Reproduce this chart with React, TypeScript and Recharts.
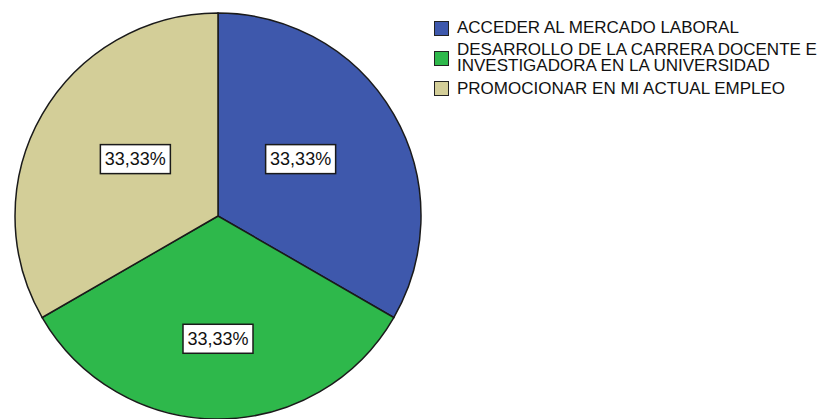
import React from "react";
import { PieChart, Pie, Cell } from "recharts";

const categories = [
  "ACCEDER AL MERCADO LABORAL",
  "DESARROLLO DE LA CARRERA DOCENTE E INVESTIGADORA EN LA UNIVERSIDAD",
  "PROMOCIONAR EN MI ACTUAL EMPLEO",
];
const legendLines = [
  ["ACCEDER AL MERCADO LABORAL"],
  ["DESARROLLO DE LA CARRERA DOCENTE E", "INVESTIGADORA EN LA UNIVERSIDAD"],
  ["PROMOCIONAR EN MI ACTUAL EMPLEO"],
];
const values = [33.33, 33.33, 33.33];
const valueLabels = ["33,33%", "33,33%", "33,33%"];
const colors = ["#3E58AC", "#2EB84B", "#D3CE98"];

const data = categories.map((name, i) => ({
  name,
  value: values[i],
  label: valueLabels[i],
  lines: legendLines[i],
  color: colors[i],
}));

const FONT = "'Liberation Sans', Arial, sans-serif";

const renderLabel = (props: any) => {
  const { cx, cy, midAngle, outerRadius, index } = props;
  const rad = (Math.PI / 180) * midAngle;
  const x = cx + outerRadius * 0.47 * Math.cos(rad);
  const y = cy + 3 - outerRadius * 0.59 * Math.sin(rad);
  const w = 70;
  const h = 29;
  return (
    <g>
      <rect
        x={x - w / 2}
        y={y - h / 2}
        width={w}
        height={h}
        fill="#ffffff"
        stroke="#1a1a1a"
        strokeWidth={1.5}
      />
      <text
        x={x}
        y={y}
        textAnchor="middle"
        dominantBaseline="central"
        fontFamily={FONT}
        fontSize={18}
        fill="#111"
      >
        {data[index].label}
      </text>
    </g>
  );
};

const LegendBox = () => (
  <div
    style={{
      position: "absolute",
      left: 434,
      top: 20,
      fontFamily: FONT,
      fontSize: 17,
      color: "#111",
    }}
  >
    {data.map((d, i) => (
      <div
        key={i}
        style={{
          display: "flex",
          alignItems: "center",
          marginBottom: i === 0 ? 5 : 6,
        }}
      >
        <div
          style={{
            width: 13,
            height: 13,
            background: d.color,
            border: "1.5px solid #222",
            marginRight: 8,
            flexShrink: 0,
          }}
        />
        <div style={{ lineHeight: "16.5px" }}>
          {d.lines.map((l, j) => (
            <div key={j} style={{ whiteSpace: "nowrap" }}>
              {l}
            </div>
          ))}
        </div>
      </div>
    ))}
  </div>
);

export default function App() {
  return (
    <div style={{ position: "absolute", left: 0, top: 0, width: 820, height: 419, background: "#fff" }}>
      <PieChart width={820} height={419} margin={{ top: 0, right: 0, bottom: 0, left: 0 }}>
        <Pie
          data={data}
          dataKey="value"
          nameKey="name"
          cx={218}
          cy={216}
          outerRadius={203}
          startAngle={90}
          endAngle={-270}
          stroke="#1a1a1a"
          strokeWidth={1.5}
          label={renderLabel}
          labelLine={false}
          isAnimationActive={false}
        >
          {data.map((d, i) => (
            <Cell key={i} fill={d.color} />
          ))}
        </Pie>
      </PieChart>
      <LegendBox />
    </div>
  );
}
